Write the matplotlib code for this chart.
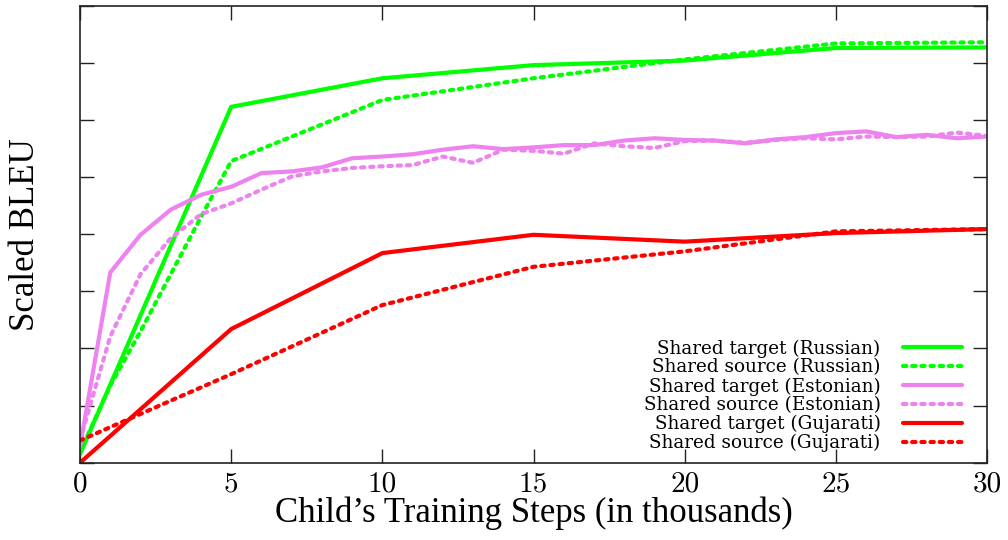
import numpy as np
import matplotlib.pyplot as plt

# x positions (thousands of child training steps)
steps_coarse = [0, 5, 10, 15, 20, 25, 30]
steps_ru_src = [0, 1, 2, 3, 4, 5, 10, 15, 20, 25, 30]
steps_fine = list(range(31))

# scaled BLEU
ru_tgt = [0.15, 6.23, 6.73, 6.96, 7.04, 7.26, 7.27]
ru_src = [0.19, 1.35, 2.30, 3.30, 4.30, 5.28, 6.35, 6.73, 7.06, 7.34, 7.36]
et_tgt = [0.28, 3.33, 3.99, 4.43, 4.69, 4.83, 5.07, 5.10, 5.17, 5.33, 5.36,
          5.40, 5.48, 5.54, 5.49, 5.52, 5.56, 5.56, 5.64, 5.68, 5.65,
          5.64, 5.59, 5.66, 5.70, 5.77, 5.80, 5.70, 5.74, 5.68, 5.71]
et_src = [0.40, 2.21, 3.30, 3.93, 4.35, 4.54, 4.78, 5.01, 5.10, 5.16, 5.19,
          5.21, 5.36, 5.25, 5.48, 5.46, 5.41, 5.59, 5.54, 5.51, 5.63,
          5.64, 5.60, 5.65, 5.68, 5.66, 5.71, 5.70, 5.71, 5.78, 5.72]
gu_tgt = [0.0, 2.34, 3.67, 3.99, 3.87, 4.02, 4.09]
gu_src = [0.39, 1.55, 2.76, 3.43, 3.70, 4.05, 4.09]

labels = ["Shared target (Russian)", "Shared source (Russian)",
          "Shared target (Estonian)", "Shared source (Estonian)",
          "Shared target (Gujarati)", "Shared source (Gujarati)"]
xticks = [0, 5, 10, 15, 20, 25, 30]

plt.rcParams['font.family'] = ['Liberation Serif', 'DejaVu Serif']

fig = plt.figure(figsize=(10.08, 5.4), dpi=100)
ax = fig.add_axes([0.0794, 0.1431, 0.8998, 0.8463])

lw = 3.0
dash = (0, (0.8, 1.4))
style = dict(lw=lw, solid_capstyle='round', dash_capstyle='round')
ax.plot(steps_coarse, ru_tgt, color='#00ff00', label=labels[0], **style)
ax.plot(steps_ru_src, ru_src, color='#00ff00', ls=dash, label=labels[1], **style)
ax.plot(steps_fine, et_tgt, color='#ee82ee', label=labels[2], **style)
ax.plot(steps_fine, et_src, color='#ee82ee', ls=dash, label=labels[3], **style)
ax.plot(steps_coarse, gu_tgt, color='#ff0000', label=labels[4], **style)
ax.plot(steps_coarse, gu_src, color='#ff0000', ls=dash, label=labels[5], **style)

ax.set_xlim(0, 30)
ax.set_ylim(0, 8)
ax.set_xticks(xticks)
ax.set_xticklabels([str(t) for t in xticks], fontfamily='cmr10', fontsize=21)
ax.set_yticks(range(9))
ax.set_yticklabels([])
ax.tick_params(direction='in', length=10, width=1.0, color='#222222',
               top=True, right=True, pad=6)
for s in ax.spines.values():
    s.set_linewidth(1.2)
    s.set_color('#222222')

ax.set_xlabel("Child’s Training Steps (in thousands)", fontsize=25)
ax.set_ylabel("Scaled BLEU", fontsize=25)
ax.xaxis.set_label_coords(0.5, -0.074)
ax.yaxis.set_label_coords(-0.042, 0.5)

leg = ax.legend(loc='lower right', bbox_to_anchor=(0.9725, 0.023), frameon=False,
                markerfirst=False, prop={'family': 'DejaVu Serif', 'size': 13.2},
                handlelength=3.2, handletextpad=1.25, labelspacing=0.04,
                borderpad=0, borderaxespad=0)

fig.savefig("out.png", dpi=100)
